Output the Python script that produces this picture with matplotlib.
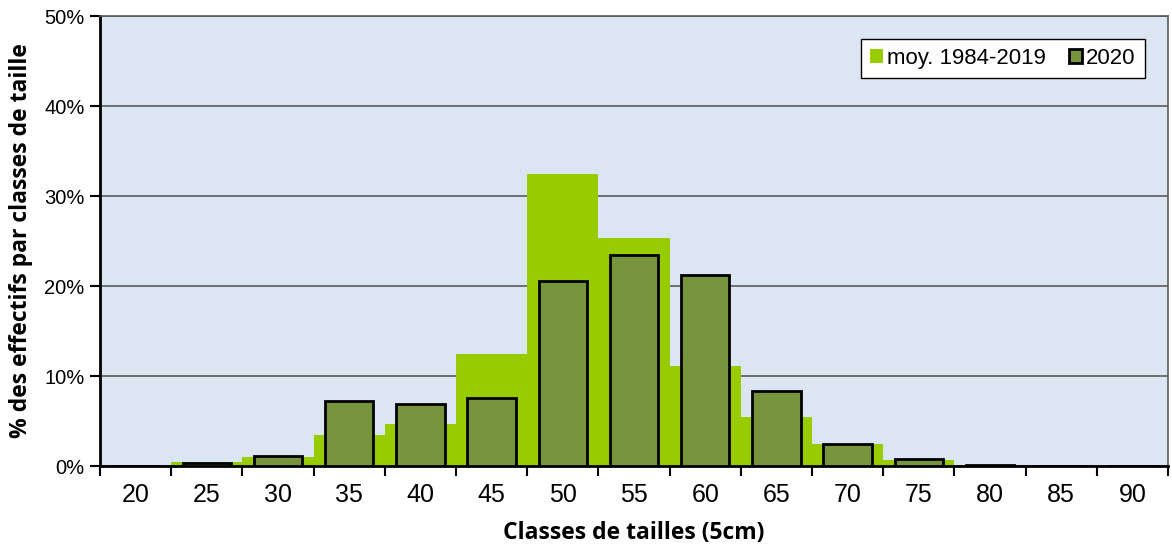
import numpy as np
import matplotlib.pyplot as plt
from matplotlib.ticker import FixedLocator, PercentFormatter

# Data
classes = ['20', '25', '30', '35', '40', '45', '50', '55', '60', '65', '70', '75', '80', '85', '90']
moy_1984_2019 = [0.0, 0.4, 1.0, 3.5, 4.7, 12.4, 32.4, 25.3, 11.1, 5.4, 2.4, 0.65, 0.0, 0.0, 0.0]
annee_2020 = [0.0, 0.35, 1.1, 7.2, 6.9, 7.6, 20.6, 23.5, 21.2, 8.3, 2.5, 0.8, 0.15, 0.0, 0.0]

plt.rcParams['font.family'] = ['Liberation Sans', 'DejaVu Sans']

fig = plt.figure(figsize=(11.72, 5.5), dpi=100)
ax = fig.add_axes([0.0853, 0.1527, 0.9113, 0.8182])
ax.set_facecolor('#dce6f2')

x = np.arange(len(classes))
ax.bar(x, moy_1984_2019, width=1.0, color='#99cc00', linewidth=0,
       label='moy. 1984-2019', zorder=2)
ax.bar(x, annee_2020, width=0.68, color='#77933c', edgecolor='black',
       linewidth=2, label='2020', zorder=3)

ax.set_xlim(-0.5, len(classes) - 0.5)
ax.set_ylim(0, 50)
ax.set_yticks(np.arange(0, 51, 10))
ax.yaxis.set_major_formatter(PercentFormatter(decimals=0))
ax.yaxis.grid(True, color='#5a5a5a', linewidth=1.2, zorder=1)
ax.set_axisbelow(True)

# ticks between classes, labels at class centres
ax.xaxis.set_major_locator(FixedLocator(np.arange(-0.5, len(classes), 1.0)))
ax.set_xticklabels([])
ax.xaxis.set_minor_locator(FixedLocator(x))
ax.set_xticklabels(classes, minor=True)
ax.tick_params(axis='x', which='major', length=7, width=1.5, direction='out')
ax.tick_params(axis='x', which='minor', length=0, labelsize=18, pad=12)
ax.tick_params(axis='y', length=7, width=1.5, direction='out', labelsize=14.5, pad=4)

for side in ['left', 'bottom']:
    ax.spines[side].set_linewidth(2)
    ax.spines[side].set_color('black')
ax.spines['top'].set_color('#5a5a5a')
ax.spines['right'].set_color('#5a5a5a')
ax.spines['top'].set_linewidth(1.2)
ax.spines['right'].set_linewidth(1.2)

ax.set_xlabel('Classes de tailles (5cm)', fontsize=16.5, fontweight='bold',
              family=['Open Sans', 'DejaVu Sans'], labelpad=10)
ax.set_ylabel('% des effectifs par classes de taille', fontsize=16.5, fontweight='bold',
              family=['Open Sans', 'DejaVu Sans'], labelpad=8)

leg = ax.legend(loc='upper right', fontsize=16, frameon=True, fancybox=False,
                edgecolor='black', facecolor='white', framealpha=1,
                ncol=2, handlelength=0.6, handleheight=0.6, handletextpad=0.2,
                columnspacing=1.0, borderpad=0.4, borderaxespad=1.05)
leg.get_frame().set_linewidth(1.0)

fig.savefig('out.png', dpi=100)
plt.close(fig)
